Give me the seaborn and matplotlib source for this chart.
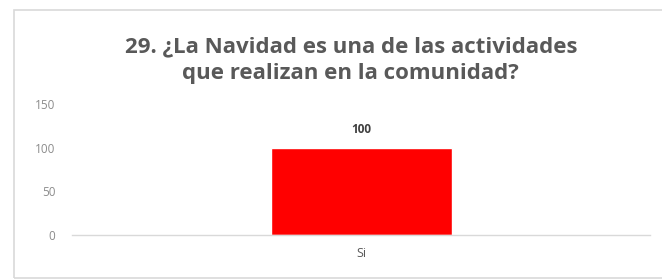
import matplotlib
matplotlib.use("Agg")
import matplotlib.pyplot as plt
import seaborn as sns
import pandas as pd
from matplotlib.patches import Rectangle

# --- データ ---
categories = ["Si"]
values = [100]
yticks = [0, 50, 100, 150]
title = "29. ¿La Navidad es una de las actividades\nque realizan en la comunidad?"

BAR_COLOR = "#ff0000"
TEXT_COLOR = "#595959"

sns.set_style("white")
plt.rcParams['font.family'] = ['Open Sans', 'DejaVu Sans']

df = pd.DataFrame({"cat": categories, "val": values})

fig = plt.figure(figsize=(6.62, 2.80), dpi=100)
ax = fig.add_axes([0.109, 0.161, 0.873, 0.468])

sns.barplot(data=df, x="cat", y="val", color=BAR_COLOR, width=0.313,
            saturation=1, ax=ax)

ax.set_ylim(0, 150)
ax.set_yticks(yticks)
ax.set_yticklabels([str(t) for t in yticks], fontsize=8.5, color="#8c8c8c")
ax.tick_params(axis='x', labelsize=9, colors=TEXT_COLOR, length=0, pad=9)
ax.tick_params(axis='y', length=0, pad=12)
ax.set_xlabel("")
ax.set_ylabel("")
for s in ["top", "right", "left"]:
    ax.spines[s].set_visible(False)
ax.spines["bottom"].set_color("#d9d9d9")
ax.spines["bottom"].set_linewidth(1)

# 値ラベル
for p, v in zip(ax.patches, values):
    ax.annotate(f"{v}", (p.get_x() + p.get_width() / 2, p.get_height()),
                xytext=(0, 8), textcoords="offset points", ha="center",
                va="bottom", fontsize=8.5, fontweight="bold", color="#404040")

fig.text(0.53, 0.785, title, ha="center", va="center", fontsize=16,
         fontweight="bold", color=TEXT_COLOR, linespacing=1.38)

# 外枠
fig.patches.append(Rectangle((14 / 662, 2 / 280), 1.2, 268 / 280,
                             transform=fig.transFigure, fill=False,
                             edgecolor="#d9d9d9", linewidth=1.2))

fig.savefig("out.png", dpi=100)
